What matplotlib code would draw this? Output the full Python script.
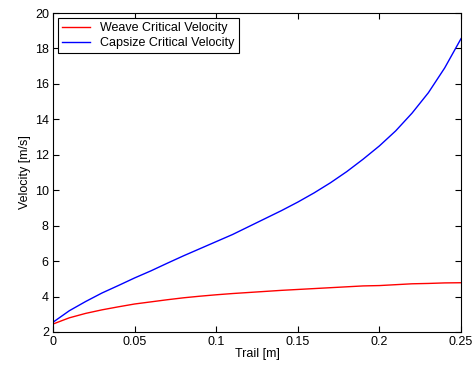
import matplotlib
matplotlib.use('Agg')
import matplotlib.pyplot as plt

plt.rcParams['font.family'] = ['Liberation Sans', 'DejaVu Sans']
plt.rcParams['font.size'] = 9

trail = [0, 0.01, 0.02, 0.03, 0.04, 0.05, 0.06, 0.07, 0.08, 0.09, 0.1, 0.11, 0.12,
         0.13, 0.14, 0.15, 0.16, 0.17, 0.18, 0.19, 0.2, 0.21, 0.22, 0.23, 0.24, 0.25]
weave = [2.45, 2.8, 3.05, 3.25, 3.42, 3.58, 3.7, 3.82, 3.93, 4.02, 4.1, 4.17, 4.23,
         4.29, 4.35, 4.4, 4.45, 4.5, 4.55, 4.6, 4.62, 4.67, 4.72, 4.74, 4.77, 4.78]
capsize = [2.55, 3.2, 3.72, 4.2, 4.62, 5.05, 5.45, 5.88, 6.3, 6.7, 7.1, 7.5, 7.95,
           8.4, 8.85, 9.33, 9.85, 10.42, 11.05, 11.75, 12.5, 13.35, 14.35, 15.5, 16.9, 18.55]

fig = plt.figure(figsize=(4.74, 3.66), dpi=100)
ax = fig.add_axes([53/474, 1-332/366, 408/474, 319/366])
ax.plot(trail, weave, color='r', linewidth=1, label='Weave Critical Velocity')
ax.plot(trail, capsize, color='b', linewidth=1, label='Capsize Critical Velocity')
ax.set_xlim(0, 0.25)
ax.set_ylim(2, 20)
ax.set_xticks([0, 0.05, 0.1, 0.15, 0.2, 0.25])
ax.set_xticklabels(['0', '0.05', '0.1', '0.15', '0.2', '0.25'])
ax.set_yticks(range(2, 21, 2))
ax.tick_params(direction='in', top=True, right=True, length=4, width=0.8, pad=3)
for s in ax.spines.values():
    s.set_linewidth(0.8)
ax.set_xlabel('Trail [m]', labelpad=0)
ax.set_ylabel('Velocity [m/s]', labelpad=3)
leg = ax.legend(loc='upper left', fancybox=False, edgecolor='k', framealpha=1,
                handlelength=2.2, borderpad=0.35, labelspacing=0.2, borderaxespad=0,
                bbox_to_anchor=(0.012, 0.984))
leg.get_frame().set_linewidth(0.8)
fig.savefig('out.png', dpi=100)
